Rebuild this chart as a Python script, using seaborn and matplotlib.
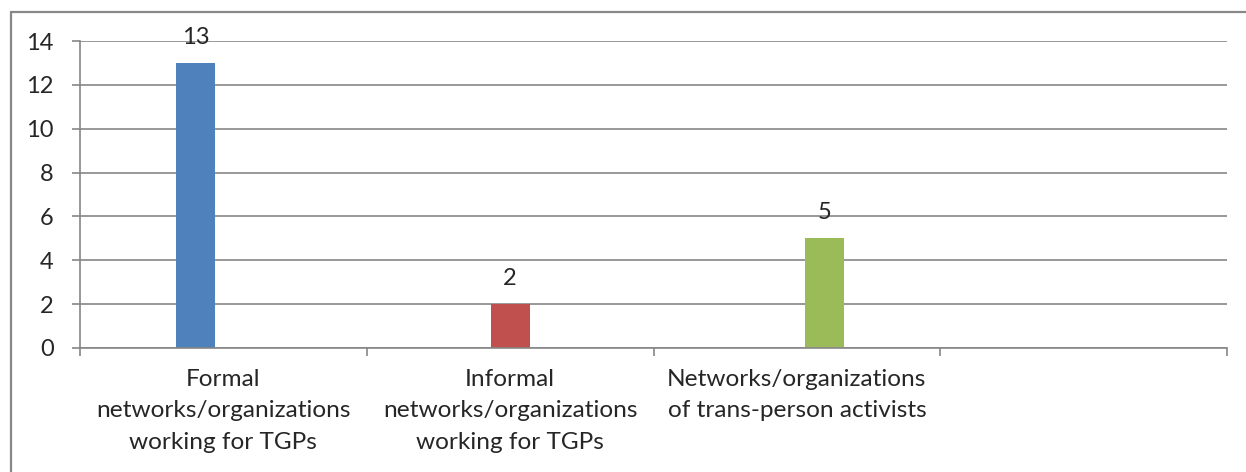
import numpy as np
import pandas as pd
import matplotlib
matplotlib.use("Agg")
import matplotlib.pyplot as plt
import seaborn as sns

# data
categories = ["Formal\nnetworks/organizations\nworking for TGPs",
              "Informal\nnetworks/organizations\nworking for TGPs",
              "Networks/organizations\nof trans-person activists",
              ""]
counts = [13, 2, 5]
colors = ["#4F81BD", "#C0504D", "#9BBB59"]
yticks = [0, 2, 4, 6, 8, 10, 12, 14]

sns.set_style("white")
plt.rcParams["font.family"] = ["Lato", "DejaVu Sans"]

df = pd.DataFrame({"group": categories[:3], "count": counts})

fig = plt.figure(figsize=(12.46, 4.72), dpi=100)
ax = fig.add_axes([80 / 1246, 1 - 348 / 472, (1227 - 80) / 1246, (348 - 41) / 472])

sns.barplot(data=df, x="group", y="count", hue="group", order=categories,
            hue_order=categories[:3], palette=colors, dodge=False,
            saturation=1, width=0.136, legend=False, ax=ax)

# excel style cluster offsets
offsets = [-0.096, 0.0, 0.096]
for i, cont in enumerate(ax.containers):
    for p in cont.patches:
        p.set_x(p.get_x() + offsets[i])
        p.set_edgecolor("none")
    ax.bar_label(cont, padding=11, fontsize=17)

grid_col = "#868686"
ax.set_ylim(0, 14)
ax.set_xlim(-0.5, 3.5)
ax.set_yticks(yticks)
ax.yaxis.grid(True, color=grid_col, linewidth=1.2)
ax.set_axisbelow(True)

ax.set_xticks([-0.5, 0.5, 1.5, 2.5, 3.5])
ax.set_xticklabels([])
ax.set_xticks(range(4), minor=True)
ax.set_xticklabels(categories, minor=True, fontsize=17.6, linespacing=1.62)
ax.tick_params(axis="x", which="major", direction="out", length=6,
               color=grid_col, width=1.2, bottom=True)
ax.tick_params(axis="x", which="minor", length=0, pad=15)
ax.tick_params(axis="y", direction="out", length=6, color=grid_col,
               width=1.2, left=True, labelsize=17, pad=13)
ax.set_xlabel("")
ax.set_ylabel("")

for s in ["top", "right"]:
    ax.spines[s].set_visible(False)
for s in ["left", "bottom"]:
    ax.spines[s].set_color(grid_col)
    ax.spines[s].set_linewidth(1.2)

# outer chart border
fig.add_artist(plt.Rectangle((11 / 1246, -0.05), 1.1, 1 - 12 / 472 + 0.05,
                             transform=fig.transFigure, fill=False,
                             edgecolor="#888888", linewidth=1.6))

fig.savefig("out.png", dpi=100)
